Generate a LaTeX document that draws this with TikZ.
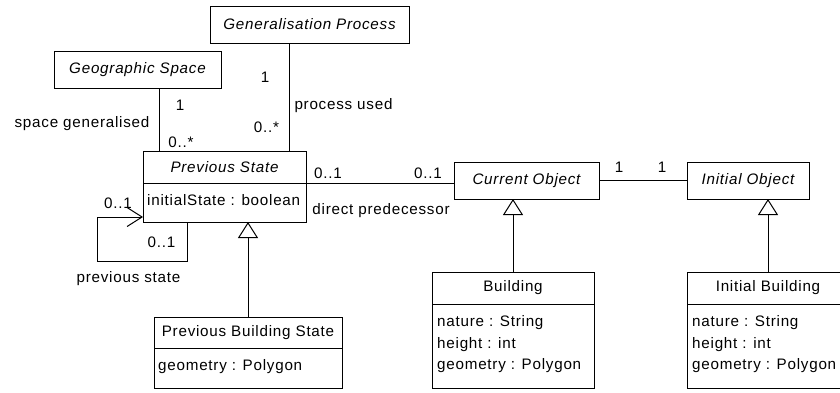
\documentclass[tikz,border=0pt]{standalone}
\usepackage{fontspec}
\setmainfont{Liberation Sans}[LetterSpace=5]
\usetikzlibrary{arrows.meta,positioning}

\newcommand\umlfont{\fontsize{15.2}{21.5}\selectfont}

\tikzset{
  umlclass/.style={draw, rectangle, inner sep=0pt, outer sep=0pt, line width=1pt, font=\umlfont},
  abstract/.style={umlclass, font=\umlfont\itshape},
  attrs/.style={anchor=north west, align=left, inner sep=0pt, font=\umlfont},
  mult/.style={inner sep=1pt, font=\umlfont},
  assoc/.style={line width=1pt},
  inherit/.style={line width=1pt, -{Triangle[open,length=16pt,width=20pt]}},
  navig/.style={line width=1pt, -{Straight Barb[length=15pt,width=19pt]}},
}

\begin{document}
\begin{tikzpicture}[x=1pt,y=-1pt]
\useasboundingbox (0,0) rectangle (840,392);

% abstract classes
\node[abstract, minimum width=199pt, minimum height=37pt] (gp) at (309.5,24.5) {Generalisation Process};
\node[abstract, minimum width=167pt, minimum height=37pt] (gs) at (137.5,69.5) {Geographic Space};
\node[abstract, minimum width=145pt, minimum height=37pt] (co) at (526.5,180.5) {Current Object};
\node[abstract, minimum width=122pt, minimum height=37pt] (io) at (748,180.5) {Initial Object};

% previous state
\node[abstract, minimum width=163pt, minimum height=32pt] (ps) at (224.5,167) {Previous State};
\node[umlclass, minimum width=163pt, minimum height=39pt, below=0pt of ps] (psa) {};
\node[attrs] (psat) at ([shift={(4,11)}]psa.north west) {initialState : boolean};

% previous building state
\node[umlclass, minimum width=188pt, minimum height=31pt] (pbs) at (248,332.5) {Previous Building State};
\node[umlclass, minimum width=188pt, minimum height=40pt, below=0pt of pbs] (pbsa) {};
\node[attrs] (pbsat) at ([shift={(4,11)}]pbsa.north west) {geometry : Polygon};

% building
\node[umlclass, minimum width=162pt, minimum height=32pt] (bd) at (513,288) {Building};
\node[umlclass, minimum width=162pt, minimum height=84pt, below=0pt of bd] (bda) {};
\node[attrs] (bdat) at ([shift={(5,11.5)}]bda.north west) {nature : String\\height : int\\geometry : Polygon};

% initial building
\node[umlclass, minimum width=162pt, minimum height=32pt] (ib) at (768,288) {Initial Building};
\node[umlclass, minimum width=162pt, minimum height=84pt, below=0pt of ib] (iba) {};
\node[attrs] (ibat) at ([shift={(5,11.5)}]iba.north west) {nature : String\\height : int\\geometry : Polygon};

% associations
\coordinate (gsend) at ([xshift=16pt]ps.north west);
\coordinate (gpend) at ([xshift=-17pt]ps.north east);
\draw[assoc] (gsend) -- (gsend |- gs.south);
\draw[assoc] (gpend) -- (gpend |- gp.south);
\draw[assoc] (psa.north east) -- (psa.north east -| co.west);
\draw[assoc] (co.east) -- (io.west);

% self association
\coordinate (loopstart) at ([xshift=44pt]psa.south west);
\coordinate (loopend) at ([yshift=5pt]psa.south west);
\draw[navig] (loopstart) -- ++(0,39) -- ++(-90,0) |- (loopend);

% generalisations
\draw[inherit] (pbs.north) -- (pbs.north |- psa.south);
\draw[inherit] (bd.north) -- (bd.north |- co.south);
\draw[inherit] (ib.north) -- (ib.north |- io.south);

% labels
\node[mult] (gsmulta) at (180,105) {1};
\node[mult] (gsrole) at (82,124) {space generalised};
\node[mult] (gsmultb) at (181,142) {0..*};
\node[mult] (gpmulta) at (265,77) {1};
\node[mult] (gprole) at (343.5,106) {process used};
\node[mult] (gpmultb) at (266.5,127) {0..*};
\node[mult] (psmult) at (328,173) {0..1};
\node[mult] (comult) at (428,173) {0..1};
\node[mult] (dprole) at (381,211) {direct predecessor};
\node[mult] (coimult) at (619,167) {1};
\node[mult] (iomult) at (662,167) {1};
\node[mult] (loopmulta) at (118,203) {0..1};
\node[mult] (loopmultb) at (161.5,242) {0..1};
\node[mult] (looprole) at (128.5,279) {previous state};
\end{tikzpicture}
\end{document}
